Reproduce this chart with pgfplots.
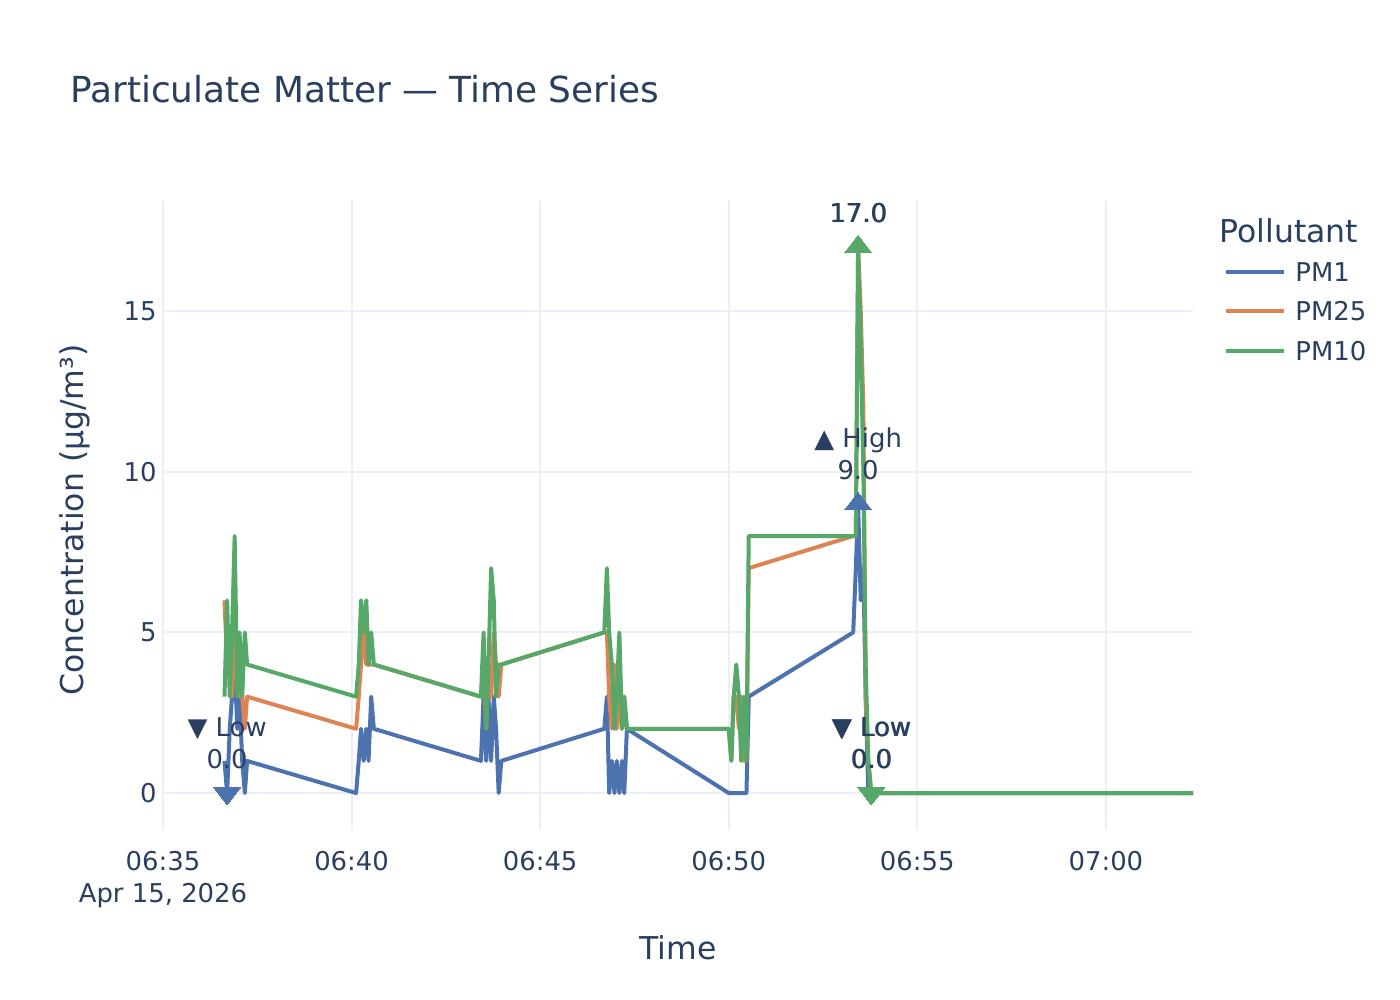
\documentclass[border=0pt]{standalone}
\usepackage{fontspec}
\setmainfont{DejaVu Sans}
\usepackage{pgfplots}
\usepackage{pgfplotstable}
\pgfplotsset{compat=1.18}

\definecolor{pmone}{HTML}{4C72B0}
\definecolor{pmtwofive}{HTML}{DD8452}
\definecolor{pmten}{HTML}{55A868}
\definecolor{ink}{HTML}{2A3F5F}
\definecolor{gridc}{HTML}{EBF0F8}

% time in minutes after 06:35, concentrations in ug/m3
\pgfplotstableread{
t     pmone pmtwofive pmten
1.63  1  6  3
1.70  0  4  6
1.77  2  5  3
1.83  3  3  5
1.90  4  5  8
1.97  2  4  3
2.03  3  3  5
2.10  1  3  3
2.17  0  2  5
2.23  1  3  4
5.12  0  2  3
5.19  1  3  4
5.25  2  4  6
5.32  1  5  5
5.39  2  4  6
5.45  1  4  4
5.52  3  4  5
5.59  2  4  4
8.43  1  3  3
8.50  3  4  5
8.57  1  2  2
8.63  3  4  4
8.70  1  3  7
8.77  3  5  6
8.83  2  4  3
8.90  0  3  4
8.97  1  4  4
11.70 2  5  5
11.77 3  5  7
11.83 0  3  5
11.90 1  2  4
11.97 0  4  2
12.03 1  2  3
12.10 0  3  5
12.17 1  2  2
12.23 0  3  3
12.30 2  2  2
15.00 0  2  2
15.07 0  1  1
15.13 0  3  3
15.20 0  3  4
15.27 0  2  3
15.33 0  3  1
15.40 0  1  3
15.47 0  1  1
15.53 3  7  8
18.30 5  8  8
18.37 7  8  8
18.43 9  17 17
18.50 6  15 14
18.57 7  12 10
18.63 3  3  4
18.70 0  1  1
18.78 0  0  0
27.31 0  0  0
}\pmdata

\tikzset{
  trace/.style={line width=2bp, line join=round, mark=none},
  upmark/.style={only marks, color=#1, mark=triangle*, mark size=5.85bp,
    mark options={solid, xscale=1.333, draw=#1, line width=0pt, fill=#1}},
  downmark/.style={only marks, color=#1, mark=triangle*, mark size=5.85bp,
    mark options={solid, xscale=1.333, rotate=180, draw=#1, line width=0pt, fill=#1}},
  note/.style={font=\fontsize{13}{16}\selectfont, text=ink, align=center,
    anchor=south, inner sep=0pt, yshift=11.8bp},
}

\begin{document}
\begin{tikzpicture}[x=1bp,y=1bp]
\path[use as bounding box] (0,0) rectangle (700,500);
\begin{axis}[
  at={(81.5bp,85bp)}, anchor=south west,
  scale only axis, width=515bp, height=315bp,
  xmin=0, xmax=27.31, ymin=-1.15, ymax=18.46,
  axis line style={draw=none},
  major tick length=0pt,
  grid=major,
  major grid style={gridc, line width=1bp},
  xtick={0,5,10,15,20,25},
  xticklabels={{06:35\\Apr 15, 2026},06:40,06:45,06:50,06:55,07:00},
  ytick={0,5,10,15},
  yticklabels={0,5,10,15},
  extra y ticks={0},
  extra y tick labels={},
  extra y tick style={grid style={gridc, line width=2bp}},
  ticklabel style={font=\fontsize{13}{16.5}\selectfont, text=ink},
  xticklabel style={align=center, anchor=north, inner sep=0pt, yshift=-10.2bp},
  yticklabel style={anchor=east, inner sep=0pt, xshift=-3bp},
  xlabel={Time},
  ylabel={Concentration (μg/m³)},
  label style={font=\fontsize{15.8}{19}\selectfont, text=ink},
  xlabel style={at={(axis description cs:0.5,0)}, anchor=center, yshift=-59bp},
  ylabel style={at={(axis description cs:-0.0854,0.492)}, anchor=center},
  clip=false,
]
% PM1
\addplot[trace, pmone] table[x=t, y=pmone] {\pmdata};
\addplot[downmark=pmone] coordinates {(1.70,0)};
\addplot[upmark=pmone] coordinates {(18.43,9)};
% PM2.5
\addplot[trace, pmtwofive] table[x=t, y=pmtwofive] {\pmdata};
\addplot[upmark=pmtwofive] coordinates {(18.43,17)};
\addplot[downmark=pmtwofive] coordinates {(18.78,0)};
% PM10
\addplot[trace, pmten] table[x=t, y=pmten] {\pmdata};
\addplot[upmark=pmten] coordinates {(18.43,17)};
\addplot[downmark=pmten] coordinates {(18.78,0)};

% extreme-value notes (PM2.5 and PM10 share the same extremes)
\node[note] at (axis cs:1.70,0) {▼ Low\\0.0};
\node[note] at (axis cs:18.43,9) {▲ High\\9.0};
\node[note] at (axis cs:18.43,17) {17.0};
\node[note, xshift=0.35bp] at (axis cs:18.43,17) {17.0};
\node[note] at (axis cs:18.78,0) {▼ Low\\0.0};
\node[note, xshift=0.35bp] at (axis cs:18.78,0) {▼ Low\\0.0};
\end{axis}

% title
\node[anchor=west, inner sep=0pt, text=ink, font=\fontsize{18}{22}\selectfont]
  at (35,455.5) {Particulate Matter — Time Series};

% legend
\node[anchor=west, inner sep=0pt, text=ink, font=\fontsize{15.8}{19}\selectfont]
  at (609.5,384.5) {Pollutant};
\foreach \yy/\cc/\nn in {364/pmone/PM1, 344.5/pmtwofive/PM25, 324.5/pmten/PM10}{
  \draw[\cc, line width=2bp] (613,\yy) -- (642,\yy);
  \node[anchor=west, inner sep=0pt, text=ink, font=\fontsize{13}{16}\selectfont]
    at (647.5,\yy) {\nn};
}
\end{tikzpicture}
\end{document}
